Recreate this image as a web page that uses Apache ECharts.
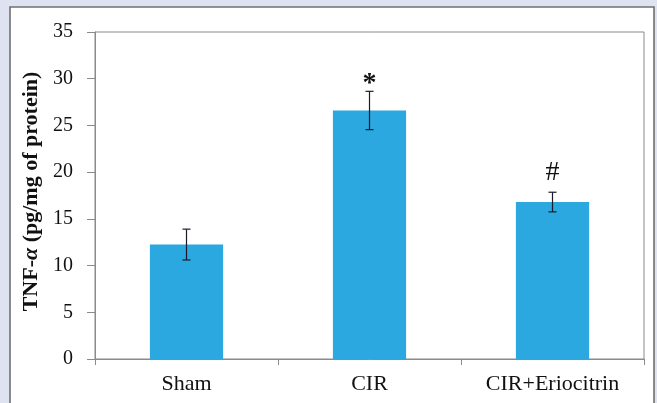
<!DOCTYPE html>
<html>
<head>
<meta charset="utf-8">
<script src="https://cdn.jsdelivr.net/npm/echarts@6/dist/echarts.min.js"></script>
<style>
	html, body { margin: 0; padding: 0; background: #dfe2f1; }
	#chart { width: 657px; height: 403px; }
</style>
</head>
<body>
<div id="chart"></div>
<script>
// data
var groups = ['Sham', 'CIR', 'CIR+Eriocitrin'];
var tnfMean = [12.25, 26.6, 16.8];
var tnfErr = [1.65, 2.05, 1.05];
var marks = ['', '*', '#'];
var yTicks = [0, 5, 10, 15, 20, 25, 30, 35];

var serif = '"Liberation Serif", "Times New Roman", serif';
// asterisk sits high in the em box, push it down a bit
var markShift = { '*': 6, '#': -6 };

var errData = [];
for (var i = 0; i < groups.length; i++) {
	errData.push([i, tnfMean[i] - tnfErr[i], tnfMean[i] + tnfErr[i], marks[i]]);
}

var myChart = echarts.init(document.getElementById('chart'));

var option = {
	backgroundColor: 'transparent',
	animation: false,
	graphic: [{
		type: 'rect',
		z: -10,
		shape: { x: 10, y: 7, width: 644, height: 410 },
		style: { fill: '#ffffff', stroke: '#707070', lineWidth: 1.6 }
	}],
	grid: {
		left: 95,
		top: 32,
		right: 13,
		bottom: 44,
		show: true,
		borderColor: '#8a8a8a',
		borderWidth: 1
	},
	xAxis: {
		type: 'category',
		data: groups,
		axisLine: { lineStyle: { color: '#8a8a8a', width: 1 } },
		axisTick: { show: true, length: 6, alignWithLabel: false, lineStyle: { color: '#8a8a8a' } },
		axisLabel: { color: '#111', fontFamily: serif, fontSize: 22, margin: 14 }
	},
	yAxis: {
		type: 'value',
		min: yTicks[0],
		max: yTicks[yTicks.length - 1],
		interval: 5,
		name: '{b|TNF-}{a|α}{b| (pg/mg of protein)}',
		nameLocation: 'middle',
		nameGap: 49,
		nameTextStyle: {
			color: '#111',
			padding: [0, 0, 0, 8],
			rich: {
				b: { fontFamily: serif, fontSize: 22, fontWeight: 'bold', color: '#111' },
				a: { fontFamily: serif, fontSize: 22, fontWeight: 'bold', fontStyle: 'italic', color: '#111' }
			}
		},
		splitLine: { show: false },
		axisLine: { show: true, lineStyle: { color: '#8a8a8a', width: 1 } },
		axisTick: { show: true, length: 8, lineStyle: { color: '#8a8a8a' } },
		axisLabel: { color: '#111', fontFamily: serif, fontSize: 20, margin: 22 }
	},
	series: [{
		type: 'bar',
		data: tnfMean,
		barWidth: '40%',
		itemStyle: { color: '#2aa8df' }
	}, {
		type: 'custom',
		data: errData,
		z: 10,
		renderItem: function(params, api) {
			var lo = api.coord([api.value(0), api.value(1)]);
			var hi = api.coord([api.value(0), api.value(2)]);
			var cap = 4;
			var lineStyle = { stroke: '#1a1a2a', lineWidth: 1.2 };
			var children = [
				{ type: 'line', shape: { x1: hi[0], y1: hi[1], x2: lo[0], y2: lo[1] }, style: lineStyle },
				{ type: 'line', shape: { x1: hi[0] - cap, y1: hi[1], x2: hi[0] + cap, y2: hi[1] }, style: lineStyle },
				{ type: 'line', shape: { x1: lo[0] - cap, y1: lo[1], x2: lo[0] + cap, y2: lo[1] }, style: lineStyle }
			];
			var mark = errData[params.dataIndex][3];
			if (mark) {
				children.push({
					type: 'text',
					style: {
						text: mark,
						x: hi[0],
						y: hi[1] + (markShift[mark] || 0),
						align: 'center',
						verticalAlign: 'bottom',
						fill: '#111',
						font: (mark === '*' ? 'bold ' : '') + '28px ' + serif
					}
				});
			}
			return { type: 'group', children: children };
		}
	}]
};

myChart.setOption(option);
</script>
</body>
</html>
